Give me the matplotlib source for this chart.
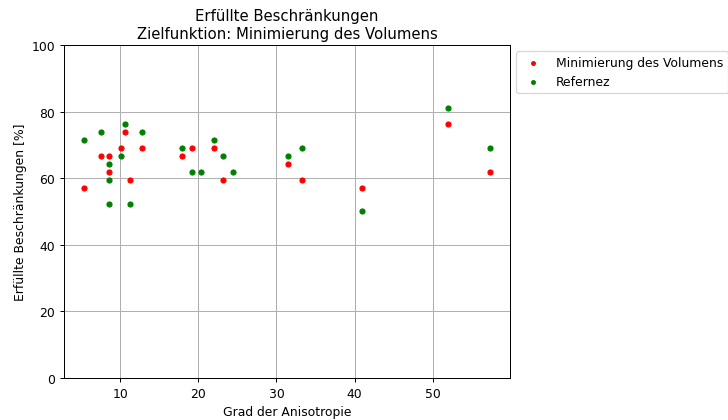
import matplotlib
matplotlib.use("Agg")
from matplotlib import pyplot as plt

# Anisotropy degree vs. share of satisfied constraints
aniso_volume = [5.4, 7.6, 8.6, 8.6, 10.1, 10.6, 11.3, 12.8, 17.9, 19.2,
                22.0, 23.1, 31.5, 33.3, 40.9, 51.9, 57.3]
fulfilled_volume = [57.1, 66.7, 66.7, 61.9, 69.0, 73.8, 59.5, 69.0, 66.7, 69.0,
                    69.0, 59.5, 64.3, 59.5, 57.1, 76.2, 61.9]

aniso_ref = [5.4, 7.6, 8.6, 8.6, 8.6, 10.1, 10.6, 11.3, 12.8, 17.9,
             19.2, 20.4, 22.0, 23.1, 24.4, 31.5, 33.3, 40.9, 51.9, 57.3]
fulfilled_ref = [71.4, 73.8, 64.3, 59.5, 52.4, 66.7, 76.2, 52.4, 73.8, 69.0,
                 61.9, 61.9, 71.4, 66.7, 61.9, 66.7, 69.0, 50.0, 81.0, 69.0]

fig = plt.figure(figsize=(8.18, 4.73), dpi=89)
ax = fig.add_axes([0.0879, 0.0998, 0.6126, 0.791])
ax.scatter(aniso_volume, fulfilled_volume, s=16, color="red",
           label="Minimierung des Volumens", zorder=3)
ax.scatter(aniso_ref, fulfilled_ref, s=16, color="green",
           label="Refernez", zorder=3)
ax.set_ylim(0, 100)
ax.grid(True)
ax.set_axisbelow(True)
ax.set_xlabel("Grad der Anisotropie")
ax.set_ylabel("Erfüllte Beschränkungen [%]")
ax.set_title("Erfüllte Beschränkungen\nZielfunktion: Minimierung des Volumens")
ax.legend(loc="upper left", bbox_to_anchor=(1.0, 1.0), markerscale=0.75)

fig.savefig("out.png", dpi=89)
plt.close(fig)
